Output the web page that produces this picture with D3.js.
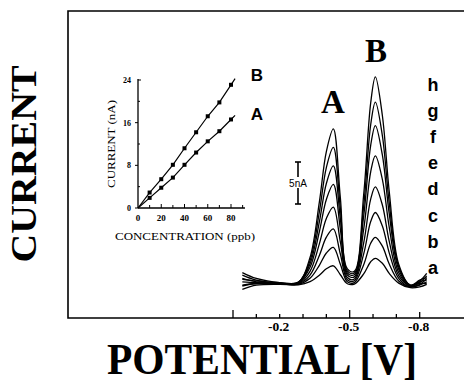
<!DOCTYPE html>
<html>
<head>
<meta charset="utf-8">
<script src="https://cdn.jsdelivr.net/npm/d3@7"></script>
<style>
  html, body { margin: 0; padding: 0; background: #fff; }
  svg { display: block; }
</style>
</head>
<body>
<svg id="chart" width="464" height="383"></svg>
<script>
// ---- Voltammograms: potential grid (V) and current (nA) for each standard addition ----
const potentials = [-0.04, -0.10, -0.20, -0.28, -0.33, -0.37, -0.40, -0.43, -0.46, -0.49,
                    -0.52, -0.56, -0.59, -0.61, -0.64, -0.67, -0.71, -0.76, -0.80, -0.83];
const curveNames = ["a", "b", "c", "d", "e", "f", "g", "h"];
const curveA = [-0.4, 0.1, 0.2, 0.15, 0.52, 1.28, 2.05, 2.4, 1.34, 0.27, 0.23, 1.44, 2.89, 3.3, 2.70, 1.47, 0.34, -0.2, -0.1, 0.2];
const curveB = [0.9, 0.5, 0.3, 0.19, 0.91, 2.46, 3.93, 4.6, 2.58, 0.50, 0.41, 2.53, 5.09, 5.8, 4.74, 2.58, 0.60, -0.1, 0.1, 0.5];
const curveC = [0.1, 0.3, 0.3, 0.24, 1.30, 3.63, 5.81, 6.8, 3.81, 0.74, 0.62, 3.82, 7.67, 8.75, 7.15, 3.89, 0.91, -0.1, 0.2, 0.9];
const curveD = [1.3, 0.7, 0.3, 0.29, 1.75, 5.02, 8.04, 9.4, 5.26, 1.01, 0.83, 5.14, 10.35, 11.8, 9.64, 5.25, 1.23, 0.0, 0.3, 0.3];
const curveE = [0.5, 0.4, 0.3, 0.34, 2.23, 6.46, 10.3, 12.1, 6.78, 1.31, 1.09, 6.76, 13.6, 15.5, 12.7, 6.90, 1.61, 0.0, 0.4, 1.2];
const curveF = [1.6, 0.9, 0.4, 0.39, 2.62, 7.64, 12.2, 14.3, 8.01, 1.55, 1.34, 8.33, 16.75, 19.1, 15.6, 8.50, 1.99, 0.0, 0.5, 0.7];
const curveG = [0.0, 0.3, 0.3, 0.43, 3.00, 8.81, 14.1, 16.5, 9.24, 1.79, 1.54, 9.55, 19.2, 21.9, 17.9, 9.75, 2.28, 0.1, 0.6, 1.5];
const curveH = [0.8, 0.6, 0.4, 0.47, 3.39, 9.99, 16.0, 18.7, 10.5, 2.03, 1.74, 10.9, 21.8, 24.9, 20.3, 11.1, 2.59, 0.1, 0.7, 1.0];
const curves = [curveA, curveB, curveC, curveD, curveE, curveF, curveG, curveH];

// main potential axis
const potentialTicks = [0, -0.1, -0.2, -0.3, -0.4, -0.5, -0.6, -0.7, -0.8];
const potentialLabels = [-0.2, -0.5, -0.8];
const scaleBarNA = 5;

// ---- Calibration inset: concentration (ppb) vs peak current (nA) ----
const concentration = [0, 10, 20, 30, 40, 50, 60, 70, 80];
const currentB = [0, 2.9, 5.4, 8.1, 11.2, 14.2, 17.2, 19.8, 23.1];
const currentA = [0, 1.9, 3.8, 5.7, 8.1, 10.4, 12.5, 14.4, 16.6];
const insetXLabels = [0, 20, 40, 60, 80];
const insetYLabels = [0, 8, 16, 24];

const svg = d3.select("#chart");
const ink = "#000";

// ---------- frame ----------
svg.append("path")
  .attr("d", "M464,11 H68 V318 H464")
  .attr("fill", "none").attr("stroke", ink).attr("stroke-width", 1.6);

// ---------- main scales ----------
const x = d3.scaleLinear().domain([0, -0.8]).range([233, 419.7]);
const y = d3.scaleLinear().domain([0, 25]).range([286, 76]);

// potential axis ticks (pointing up from the bottom line)
svg.append("g").selectAll("line").data(potentialTicks).join("line")
  .attr("x1", d => x(d)).attr("x2", d => x(d))
  .attr("y1", 318)
  .attr("y2", d => (d === 0 || d === -0.5) ? 310 : (d === -0.8 ? 312 : 314))
  .attr("stroke", ink).attr("stroke-width", 1.3);

svg.append("g").selectAll("text").data(potentialLabels).join("text")
  .attr("x", d => x(d) - 1).attr("y", 331)
  .attr("text-anchor", "middle")
  .attr("font-family", "Liberation Serif, serif").attr("font-weight", "bold")
  .attr("font-size", 13.5)
  .text(d => d3.format(".1f")(d).replace("−", "-"));

// voltammograms
const line = d3.line()
  .x((d, i) => x(potentials[i]))
  .y(d => y(d))
  .curve(d3.curveCatmullRom.alpha(0.5));

svg.append("g").selectAll("path").data(curves).join("path")
  .attr("d", d => line(d))
  .attr("fill", "none").attr("stroke", ink).attr("stroke-width", 1.3);

// curve letters
svg.append("g").selectAll("text").data(curveNames).join("text")
  .attr("x", 433)
  .attr("y", (d, i) => 274 - i * 26.2)
  .attr("text-anchor", "middle")
  .attr("font-family", "Liberation Sans, Arial, sans-serif").attr("font-weight", "bold")
  .attr("font-size", 18)
  .text(d => d);

// peak labels
svg.append("text").attr("x", 333).attr("y", 113).attr("text-anchor", "middle")
  .attr("font-family", "Liberation Serif, serif").attr("font-weight", "bold")
  .attr("font-size", 33).text("A");
svg.append("text").attr("x", 376).attr("y", 62).attr("text-anchor", "middle")
  .attr("font-family", "Liberation Serif, serif").attr("font-weight", "bold")
  .attr("font-size", 33).text("B");

// 5 nA scale bar
const barX = 298, barTop = 162;
const barBottom = barTop + (y(0) - y(scaleBarNA));
const bar = svg.append("g").attr("stroke", ink).attr("stroke-width", 1.6);
bar.append("line").attr("x1", barX).attr("x2", barX).attr("y1", barTop).attr("y2", barBottom);
bar.append("line").attr("x1", barX - 3).attr("x2", barX + 3).attr("y1", barTop).attr("y2", barTop);
bar.append("line").attr("x1", barX - 3).attr("x2", barX + 3).attr("y1", barBottom).attr("y2", barBottom);
svg.append("rect").attr("x", barX - 10).attr("y", (barTop + barBottom) / 2 - 6)
  .attr("width", 20).attr("height", 11).attr("fill", "#fff");
svg.append("text").attr("x", barX).attr("y", (barTop + barBottom) / 2 + 3.5)
  .attr("text-anchor", "middle")
  .attr("font-family", "Liberation Sans, Arial, sans-serif").attr("font-size", 10)
  .text(scaleBarNA + "nA");

// axis titles
svg.append("text")
  .attr("transform", "translate(36,164) rotate(-90)")
  .attr("text-anchor", "middle")
  .attr("font-family", "Liberation Serif, serif").attr("font-weight", "bold")
  .attr("font-size", 36)
  .attr("textLength", 197).attr("lengthAdjust", "spacingAndGlyphs")
  .text("CURRENT");
svg.append("text")
  .attr("x", 262).attr("y", 373.5)
  .attr("text-anchor", "middle")
  .attr("font-family", "Liberation Serif, serif").attr("font-weight", "bold")
  .attr("font-size", 44)
  .attr("textLength", 310).attr("lengthAdjust", "spacingAndGlyphs")
  .text("POTENTIAL [V]");

// ---------- calibration inset ----------
const ix = d3.scaleLinear().domain([0, 80]).range([138, 231]);
const iy = d3.scaleLinear().domain([0, 24]).range([208, 80]);
const inset = svg.append("g");

inset.append("line").attr("x1", ix(0)).attr("x2", ix(0)).attr("y1", iy(0)).attr("y2", iy(24) - 1)
  .attr("stroke", ink).attr("stroke-width", 1.3);
inset.append("line").attr("x1", ix(0)).attr("x2", ix(92)).attr("y1", iy(0)).attr("y2", iy(0))
  .attr("stroke", ink).attr("stroke-width", 1.3);

// y ticks: labelled ticks outward, intermediate ones inward
inset.append("g").selectAll("line").data(d3.range(0, 25, 4)).join("line")
  .attr("x1", ix(0))
  .attr("x2", d => (d === 24 ? ix(0) + 3 : (d % 8 === 0 ? ix(0) - 3 : ix(0) + 2)))
  .attr("y1", d => iy(d)).attr("y2", d => iy(d))
  .attr("stroke", ink).attr("stroke-width", 1);
inset.append("g").selectAll("text").data(insetYLabels).join("text")
  .attr("x", 131).attr("y", d => iy(d) + 3)
  .attr("text-anchor", "end")
  .attr("font-family", "Liberation Serif, serif").attr("font-weight", "bold")
  .attr("font-size", 8)
  .text(d => d);

// x ticks
inset.append("g").selectAll("line").data(d3.range(10, 91, 10)).join("line")
  .attr("x1", d => ix(d)).attr("x2", d => ix(d))
  .attr("y1", iy(0)).attr("y2", d => iy(0) - (d % 20 === 0 ? 4 : 3))
  .attr("stroke", ink).attr("stroke-width", 1);
inset.append("g").selectAll("text").data(insetXLabels).join("text")
  .attr("x", d => ix(d)).attr("y", 221)
  .attr("text-anchor", "middle")
  .attr("font-family", "Liberation Serif, serif").attr("font-weight", "bold")
  .attr("font-size", 9)
  .text(d => d);

inset.append("text")
  .attr("transform", `translate(115,${iy(12)}) rotate(-90)`)
  .attr("text-anchor", "middle")
  .attr("font-family", "Liberation Serif, serif").attr("font-size", 11)
  .attr("textLength", 88).attr("lengthAdjust", "spacingAndGlyphs")
  .text("CURRENT (nA)");
inset.append("text")
  .attr("x", 185).attr("y", 240)
  .attr("text-anchor", "middle")
  .attr("font-family", "Liberation Serif, serif").attr("font-size", 11)
  .attr("textLength", 140).attr("lengthAdjust", "spacingAndGlyphs")
  .text("CONCENTRATION (ppb)");

// calibration lines, extended a little past the last standard
const calLine = d3.line().x(d => ix(d[0])).y(d => iy(d[1]));
[currentA, currentB].forEach(series => {
  const n = series.length;
  const slope = (series[n - 1] - series[n - 2]) / (concentration[n - 1] - concentration[n - 2]);
  const pts = concentration.map((c, i) => [c, series[i]]);
  pts.push([83.5, series[n - 1] + slope * 3.5]);
  inset.append("path").attr("d", calLine(pts))
    .attr("fill", "none").attr("stroke", ink).attr("stroke-width", 1.2);
  inset.append("g").selectAll("rect").data(pts.slice(1, n)).join("rect")
    .attr("x", d => ix(d[0]) - 2).attr("y", d => iy(d[1]) - 2)
    .attr("width", 4).attr("height", 4).attr("fill", ink);
});

inset.append("text").attr("x", 257).attr("y", 81).attr("text-anchor", "middle")
  .attr("font-family", "Liberation Sans, Arial, sans-serif").attr("font-weight", "bold")
  .attr("font-size", 17).text("B");
inset.append("text").attr("x", 257).attr("y", 120).attr("text-anchor", "middle")
  .attr("font-family", "Liberation Sans, Arial, sans-serif").attr("font-weight", "bold")
  .attr("font-size", 17).text("A");
</script>
</body>
</html>
